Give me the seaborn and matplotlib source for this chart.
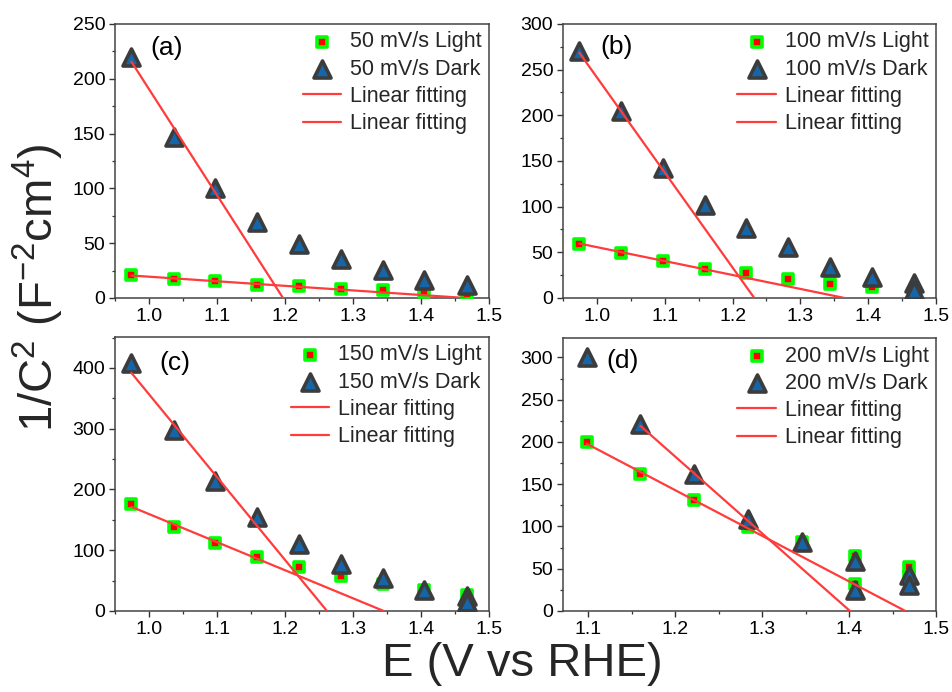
import matplotlib
matplotlib.use("Agg")
import matplotlib.pyplot as plt
from matplotlib.ticker import MultipleLocator
import seaborn as sns

# ---------------- data ----------------
x_abc = [0.974, 1.036, 1.097, 1.159, 1.220, 1.282, 1.344, 1.405, 1.467]
x_abc_dup = [0.974, 1.036, 1.097, 1.159, 1.220, 1.282, 1.344, 1.405, 1.467, 1.467]
x_d = [1.098, 1.160, 1.222, 1.284, 1.346, 1.407, 1.407, 1.469, 1.469]

a_light = [20.7, 17.7, 15.2, 12.2, 10.7, 8.2, 7.0, 5.2, 4.0]
a_dark = [219.5, 147.0, 100.5, 69.5, 49.6, 36.0, 25.3, 16.7, 12.2]
b_light = [59.6, 49.7, 40.2, 32.2, 27.4, 21.2, 15.7, 12.4, 4.0]
b_dark = [270.0, 204.6, 141.8, 101.6, 76.7, 55.9, 34.0, 23.3, 16.0, 8.5]
c_light = [176.0, 138.6, 112.3, 89.3, 71.8, 57.5, 45.0, 34.5, 27.0]
c_dark = [408.0, 297.5, 213.7, 155.0, 111.0, 76.7, 54.0, 34.5, 24.0, 14.0]
d_light = [200.0, 161.5, 131.5, 99.3, 81.5, 65.0, 32.0, 52.5, 41.0]
d_dark = [301.0, 221.5, 162.5, 109.2, 81.1, 59.0, 24.9, 42.7, 30.8]

# linear fits: start x, start y, x-intercept (dark fit, light fit)
fit_x0 = {"a": [0.974, 0.974], "b": [0.974, 0.974], "c": [0.974, 0.974], "d": [1.160, 1.098]}
fit_y0 = {"a": [215.6, 20.5], "b": [268.5, 59.6], "c": [392.0, 171.5], "d": [219.0, 198.0]}
fit_xint = {"a": [1.197, 1.465], "b": [1.232, 1.365], "c": [1.2616, 1.345], "d": [1.401, 1.4647]}

scan_rates = {"a": "50", "b": "100", "c": "150", "d": "200"}
panel_x = {"a": x_abc, "b": x_abc, "c": x_abc, "d": x_d}
panel_xdark = {"a": x_abc, "b": x_abc_dup, "c": x_abc_dup, "d": x_d}
panel_light = {"a": a_light, "b": b_light, "c": c_light, "d": d_light}
panel_dark = {"a": a_dark, "b": b_dark, "c": c_dark, "d": d_dark}

xlims = {"a": (0.95, 1.5), "b": (0.95, 1.5), "c": (0.95, 1.5), "d": (1.071, 1.5)}
ylims = {"a": (0, 250), "b": (0, 300), "c": (0, 451), "d": (0, 323)}
ymajor = {"a": 50, "b": 50, "c": 100, "d": 50}
label_pos = {"a": (0.095, 0.913), "b": (0.099, 0.917), "c": (0.118, 0.905), "d": (0.117, 0.916)}

# ---------------- style ----------------
sns.set_theme(style="ticks")
plt.rcParams["font.family"] = ["Liberation Sans", "DejaVu Sans"]
plt.rcParams["mathtext.fontset"] = "custom"
plt.rcParams["mathtext.rm"] = "Liberation Sans"
plt.rcParams["mathtext.it"] = "Liberation Sans:italic"
plt.rcParams["mathtext.bf"] = "Liberation Sans:bold"

SQ_FACE = "#ff0000"
SQ_EDGE = "#00ff00"
TR_FACE = "#1565a8"
TR_EDGE = "#3c3c3c"
LINE_C = "#ff3b3b"

fig = plt.figure(figsize=(9.53, 6.92), dpi=100)
positions = {
    "a": [0.1207, 0.5694, 0.3925, 0.396],
    "b": [0.5908, 0.5694, 0.3914, 0.396],
    "c": [0.1207, 0.1171, 0.3925, 0.396],
    "d": [0.5908, 0.1171, 0.3914, 0.3945],
}

for key in ["a", "b", "c", "d"]:
    ax = fig.add_axes(positions[key])
    rate = scan_rates[key]
    sns.scatterplot(x=panel_x[key], y=panel_light[key], marker="s", s=54,
                    color=SQ_FACE, edgecolor=SQ_EDGE, linewidth=2.6,
                    label=f"{rate} mV/s Light", ax=ax, zorder=3)
    sns.scatterplot(x=panel_xdark[key], y=panel_dark[key], marker="^", s=150,
                    color=TR_FACE, edgecolor=TR_EDGE, linewidth=2.6,
                    label=f"{rate} mV/s Dark", ax=ax, zorder=4)
    for i in range(2):
        sns.lineplot(x=[fit_x0[key][i], fit_xint[key][i]], y=[fit_y0[key][i], 0],
                     color=LINE_C, linewidth=1.6, label="Linear fitting",
                     ax=ax, zorder=5, estimator=None, sort=False)

    ax.set_xlim(*xlims[key])
    ax.set_ylim(*ylims[key])
    ax.xaxis.set_major_locator(MultipleLocator(0.1))
    ax.xaxis.set_minor_locator(MultipleLocator(0.05))
    ax.yaxis.set_major_locator(MultipleLocator(ymajor[key]))
    ax.yaxis.set_minor_locator(MultipleLocator(ymajor[key] / 2))
    ax.xaxis.set_major_formatter(plt.FuncFormatter(lambda v, p: f"{v:.1f}"))
    ax.yaxis.set_major_formatter(plt.FuncFormatter(lambda v, p: f"{v:.0f}"))
    ax.tick_params(axis="both", which="major", direction="out", length=4,
                   width=1.0, labelsize=14, colors="#333333", labelcolor="black", pad=3)
    ax.tick_params(axis="both", which="minor", direction="out", length=2.5,
                   width=0.9, colors="#333333")
    for sp in ax.spines.values():
        sp.set_visible(True)
        sp.set_color("#444444")
        sp.set_linewidth(1.1)
    ax.set_xlabel("")
    ax.set_ylabel("")

    ax.text(label_pos[key][0], label_pos[key][1], f"({key})", transform=ax.transAxes,
            fontsize=19, ha="left", va="center", color="black")

    ax.legend(loc="upper right", frameon=False, fontsize=15.5,
              borderaxespad=0.05, borderpad=0.3, handlelength=1.8,
              handletextpad=0.4, labelspacing=0.29, markerscale=1.0,
              alignment="right")

fig.text(0.548, 0.040, "E (V vs RHE)", fontsize=34, ha="center", va="center")
fig.text(0.040, 0.584, r"1/C$^{\mathregular{2}}$ (F$^{\mathregular{-2}}$cm$^{\mathregular{4}}$)",
         fontsize=34, ha="center", va="center", rotation=90)

fig.savefig("out.png", dpi=100)
